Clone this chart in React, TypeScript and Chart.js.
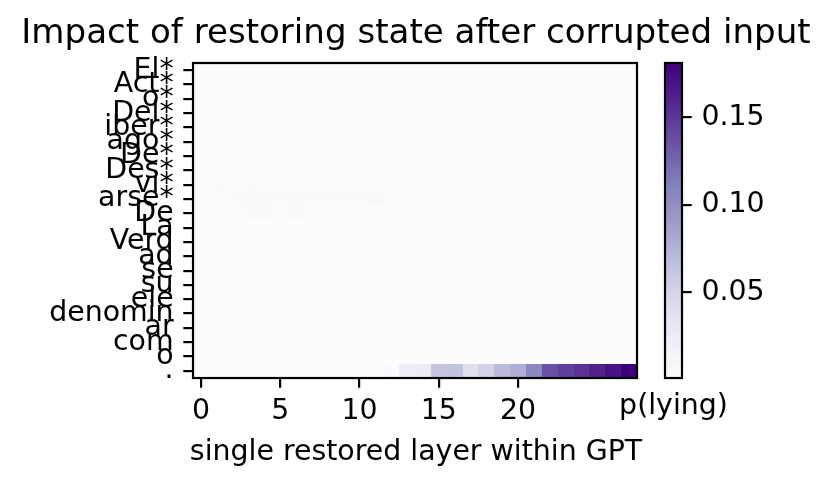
import React, { useEffect, useRef } from "react";
import { Chart, registerables } from "chart.js";

Chart.register(...registerables);

const FONT = "'DejaVu Sans', 'Liberation Sans', sans-serif";

const chartTitle = "Impact of restoring state after corrupted input";
const xAxisTitle = "single restored layer within GPT";
const colorbarLabel = "p(lying)";

// Row labels (input tokens), top to bottom
const tokens = [
  "El*", "Act*", "o*", "Del*", "iber*", "ago*", "De*", "Des*", "vi*", "arse*",
  "De", "La", "Verd", "ad", "se", "su", "ele", "denomin", "ar", "com", "o", ".",
];

// Column categories (layers)
const layers = [0, 1, 2, 3, 4, 5, 6, 7, 8, 9, 10, 11, 12, 13, 14, 15, 16, 17, 18, 19, 20, 21, 22, 23, 24, 25, 26, 27];
const layerTicks = [0, 5, 10, 15, 20];
const colorbarTicks = [0.05, 0.1, 0.15];

// p(lying) per token row and layer column
const pLying: number[][] = [
  /* El*    */ [0.001, 0.001, 0.001, 0.001, 0.001, 0.001, 0.001, 0.001, 0.001, 0.001, 0.001, 0.001, 0.001, 0.001, 0.001, 0.001, 0.001, 0.001, 0.001, 0.001, 0.001, 0.001, 0.001, 0.001, 0.001, 0.001, 0.001, 0.001],
  /* Act*   */ [0.001, 0.001, 0.001, 0.001, 0.001, 0.001, 0.001, 0.001, 0.001, 0.001, 0.001, 0.001, 0.001, 0.001, 0.001, 0.001, 0.001, 0.001, 0.001, 0.001, 0.001, 0.001, 0.001, 0.001, 0.001, 0.001, 0.001, 0.001],
  /* o*     */ [0.001, 0.001, 0.001, 0.001, 0.001, 0.001, 0.001, 0.001, 0.001, 0.001, 0.001, 0.001, 0.001, 0.001, 0.001, 0.001, 0.001, 0.001, 0.001, 0.001, 0.001, 0.001, 0.001, 0.001, 0.001, 0.001, 0.001, 0.001],
  /* Del*   */ [0.001, 0.001, 0.001, 0.001, 0.001, 0.001, 0.001, 0.001, 0.001, 0.001, 0.001, 0.001, 0.001, 0.001, 0.001, 0.001, 0.001, 0.001, 0.001, 0.001, 0.001, 0.001, 0.001, 0.001, 0.001, 0.001, 0.001, 0.001],
  /* iber*  */ [0.001, 0.001, 0.001, 0.001, 0.001, 0.001, 0.001, 0.001, 0.001, 0.001, 0.001, 0.001, 0.001, 0.001, 0.001, 0.001, 0.001, 0.001, 0.001, 0.001, 0.001, 0.001, 0.001, 0.001, 0.001, 0.001, 0.001, 0.001],
  /* ago*   */ [0.001, 0.001, 0.001, 0.001, 0.001, 0.001, 0.001, 0.001, 0.001, 0.001, 0.001, 0.001, 0.001, 0.001, 0.001, 0.001, 0.001, 0.001, 0.001, 0.001, 0.001, 0.001, 0.001, 0.001, 0.001, 0.001, 0.001, 0.001],
  /* De*    */ [0.001, 0.001, 0.001, 0.001, 0.001, 0.001, 0.001, 0.001, 0.001, 0.001, 0.001, 0.001, 0.001, 0.001, 0.001, 0.001, 0.001, 0.001, 0.001, 0.001, 0.001, 0.001, 0.001, 0.001, 0.001, 0.001, 0.001, 0.001],
  /* Des*   */ [0.001, 0.001, 0.001, 0.001, 0.001, 0.001, 0.001, 0.001, 0.001, 0.001, 0.001, 0.001, 0.001, 0.001, 0.001, 0.001, 0.001, 0.001, 0.001, 0.001, 0.001, 0.001, 0.001, 0.001, 0.001, 0.001, 0.001, 0.001],
  /* vi*    */ [0.001, 0.005, 0.001, 0.004, 0.001, 0.001, 0.001, 0.001, 0.001, 0.001, 0.001, 0.001, 0.001, 0.001, 0.001, 0.001, 0.001, 0.001, 0.001, 0.001, 0.001, 0.001, 0.001, 0.001, 0.001, 0.001, 0.001, 0.001],
  /* arse*  */ [0.001, 0.001, 0.004, 0.004, 0.004, 0.004, 0.005, 0.005, 0.005, 0.005, 0.004, 0.006, 0.003, 0.001, 0.001, 0.001, 0.001, 0.001, 0.001, 0.001, 0.001, 0.001, 0.001, 0.001, 0.001, 0.001, 0.001, 0.001],
  /* De     */ [0.001, 0.001, 0.001, 0.004, 0.004, 0.001, 0.004, 0.001, 0.001, 0.001, 0.001, 0.001, 0.001, 0.001, 0.001, 0.001, 0.001, 0.001, 0.001, 0.001, 0.001, 0.001, 0.001, 0.001, 0.001, 0.001, 0.001, 0.001],
  /* La     */ [0.001, 0.001, 0.001, 0.001, 0.001, 0.001, 0.001, 0.001, 0.001, 0.001, 0.001, 0.001, 0.001, 0.001, 0.001, 0.001, 0.001, 0.001, 0.001, 0.001, 0.001, 0.001, 0.001, 0.001, 0.001, 0.001, 0.001, 0.001],
  /* Verd   */ [0.001, 0.001, 0.001, 0.001, 0.001, 0.001, 0.001, 0.001, 0.001, 0.001, 0.001, 0.001, 0.001, 0.001, 0.001, 0.001, 0.001, 0.001, 0.001, 0.001, 0.001, 0.001, 0.001, 0.001, 0.001, 0.001, 0.001, 0.001],
  /* ad     */ [0.001, 0.001, 0.001, 0.001, 0.001, 0.005, 0.005, 0.003, 0.003, 0.003, 0.001, 0.001, 0.001, 0.001, 0.004, 0.001, 0.001, 0.001, 0.001, 0.001, 0.001, 0.001, 0.001, 0.001, 0.001, 0.001, 0.001, 0.001],
  /* se     */ [0.001, 0.001, 0.001, 0.001, 0.001, 0.001, 0.001, 0.001, 0.001, 0.001, 0.001, 0.001, 0.001, 0.001, 0.001, 0.001, 0.001, 0.001, 0.001, 0.001, 0.001, 0.001, 0.001, 0.001, 0.001, 0.001, 0.001, 0.001],
  /* su     */ [0.001, 0.001, 0.001, 0.001, 0.001, 0.001, 0.001, 0.001, 0.001, 0.001, 0.001, 0.001, 0.001, 0.001, 0.001, 0.001, 0.001, 0.001, 0.001, 0.001, 0.001, 0.001, 0.001, 0.001, 0.001, 0.001, 0.001, 0.001],
  /* ele    */ [0.001, 0.001, 0.001, 0.001, 0.001, 0.001, 0.001, 0.001, 0.001, 0.001, 0.001, 0.001, 0.001, 0.001, 0.001, 0.001, 0.001, 0.001, 0.001, 0.001, 0.001, 0.001, 0.001, 0.001, 0.001, 0.001, 0.001, 0.001],
  /* denomin*/ [0.001, 0.001, 0.001, 0.001, 0.001, 0.001, 0.001, 0.001, 0.001, 0.001, 0.001, 0.001, 0.001, 0.001, 0.001, 0.001, 0.001, 0.001, 0.001, 0.001, 0.001, 0.001, 0.001, 0.001, 0.001, 0.001, 0.001, 0.001],
  /* ar     */ [0.001, 0.001, 0.001, 0.001, 0.001, 0.001, 0.001, 0.001, 0.001, 0.001, 0.001, 0.001, 0.001, 0.001, 0.001, 0.001, 0.001, 0.001, 0.001, 0.001, 0.001, 0.001, 0.001, 0.001, 0.001, 0.001, 0.001, 0.001],
  /* com    */ [0.001, 0.001, 0.001, 0.001, 0.001, 0.001, 0.001, 0.001, 0.001, 0.001, 0.001, 0.001, 0.001, 0.001, 0.001, 0.001, 0.001, 0.001, 0.001, 0.001, 0.001, 0.001, 0.001, 0.001, 0.001, 0.001, 0.001, 0.001],
  /* o      */ [0.001, 0.001, 0.001, 0.001, 0.001, 0.001, 0.001, 0.001, 0.001, 0.001, 0.001, 0.001, 0.001, 0.001, 0.001, 0.001, 0.001, 0.001, 0.001, 0.001, 0.001, 0.001, 0.001, 0.001, 0.001, 0.001, 0.001, 0.001],
  /* .      */ [0.001, 0.001, 0.001, 0.001, 0.001, 0.001, 0.001, 0.001, 0.001, 0.001, 0.001, 0.003, 0.004, 0.023, 0.027, 0.062, 0.063, 0.040, 0.052, 0.070, 0.078, 0.105, 0.136, 0.145, 0.152, 0.161, 0.170, 0.181],
];

const PURPLES = ["#fcfbfd", "#efedf5", "#dadaeb", "#bcbddc", "#9e9ac8", "#807dba", "#6a51a3", "#54278f", "#3f007d"];

function hexToRgb(h: string) {
  return [parseInt(h.slice(1, 3), 16), parseInt(h.slice(3, 5), 16), parseInt(h.slice(5, 7), 16)];
}

function purples(t: number) {
  const tt = Math.max(0, Math.min(1, t));
  const s = tt * (PURPLES.length - 1);
  const i = Math.min(PURPLES.length - 2, Math.floor(s));
  const f = s - i;
  const a = hexToRgb(PURPLES[i]);
  const b = hexToRgb(PURPLES[i + 1]);
  const c = a.map((v, k) => Math.round(v + (b[k] - v) * f));
  return `rgb(${c[0]},${c[1]},${c[2]})`;
}

const allVals = pLying.flat();
const vmin = Math.min(...allVals);
const vmax = Math.max(...allVals);

const TICK_FONT = { family: FONT, size: 28.4, weight: "normal" as const, lineHeight: 1.2 };
const TITLE_FONT = { family: FONT, size: 34.1, weight: "normal" as const, lineHeight: 1.2 };
const TICK_LEN = 9.7;
const LINE_W = 2.2;

const heatmapPlugin = {
  id: "heatmapCells",
  beforeDatasetsDraw(chart: any) {
    const { ctx, scales } = chart;
    const xs = scales.x;
    const ys = scales.y;
    const pts = chart.data.datasets[0].data as { x: number; y: number; v: number }[];
    ctx.save();
    for (const p of pts) {
      const x0 = Math.round(xs.getPixelForValue(p.x - 0.5));
      const x1 = Math.round(xs.getPixelForValue(p.x + 0.5));
      const y0 = Math.round(ys.getPixelForValue(p.y - 0.5));
      const y1 = Math.round(ys.getPixelForValue(p.y + 0.5));
      ctx.fillStyle = purples((p.v - vmin) / (vmax - vmin));
      ctx.fillRect(Math.min(x0, x1), Math.min(y0, y1), Math.abs(x1 - x0), Math.abs(y1 - y0));
    }
    ctx.restore();
  },
};

const framePlugin = {
  id: "frame",
  afterDatasetsDraw(chart: any) {
    const { ctx, chartArea } = chart;
    ctx.save();
    ctx.strokeStyle = "#000";
    ctx.lineWidth = LINE_W;
    ctx.strokeRect(chartArea.left, chartArea.top, chartArea.right - chartArea.left, chartArea.bottom - chartArea.top);
    ctx.restore();
  },
};

const tickGrid = {
  display: true,
  drawOnChartArea: false,
  drawTicks: true,
  tickLength: TICK_LEN,
  color: "#000",
  lineWidth: LINE_W,
};

export default function App() {
  const mainRef = useRef<HTMLCanvasElement>(null);
  const cbRef = useRef<HTMLCanvasElement>(null);

  useEffect(() => {
    const points: { x: number; y: number; v: number }[] = [];
    pLying.forEach((row, r) => {
      row.forEach((v, c) => points.push({ x: layers[c], y: r, v }));
    });

    const main = new Chart(mainRef.current as HTMLCanvasElement, {
      type: "scatter",
      data: {
        datasets: [{ data: points as any, pointRadius: 0, pointHoverRadius: 0 }],
      },
      options: {
        animation: false,
        responsive: false,
        devicePixelRatio: 1,
        events: [],
        layout: { padding: 0 },
        plugins: {
          legend: { display: false },
          tooltip: { enabled: false },
          title: {
            display: true,
            text: chartTitle,
            color: "#000",
            font: TITLE_FONT,
            padding: { top: 13.7, bottom: 8.4 },
          },
          subtitle: {
            display: true,
            position: "bottom",
            text: xAxisTitle,
            color: "#000",
            font: TICK_FONT,
            padding: { top: 7.2, bottom: 16.7 },
          },
        },
        scales: {
          x: {
            type: "linear",
            position: "bottom",
            min: -0.5,
            max: 27.5,
            afterBuildTicks: (s: any) => {
              s.ticks = layerTicks.map((v) => ({ value: v }));
            },
            afterFit: (s: any) => {
              s.height = 50;
            },
            ticks: {
              font: TICK_FONT,
              color: "#000",
              padding: 6.4,
              autoSkip: false,
              maxRotation: 0,
              callback: (v: any) => String(v),
            },
            grid: tickGrid,
            border: { display: false },
          },
          y: {
            type: "linear",
            position: "left",
            reverse: true,
            min: -0.5,
            max: tokens.length - 0.5,
            afterBuildTicks: (s: any) => {
              s.ticks = tokens.map((_, i) => ({ value: i }));
            },
            afterFit: (s: any) => {
              s.width = 193;
            },
            ticks: {
              font: TICK_FONT,
              color: "#000",
              padding: TICK_LEN,
              autoSkip: false,
              callback: (v: any) => tokens[v as number] ?? "",
            },
            grid: tickGrid,
            border: { display: false },
          },
          yr: {
            type: "linear",
            position: "right",
            display: true,
            afterFit: (s: any) => {
              s.width = 195;
            },
            ticks: { display: false },
            grid: { display: false },
            border: { display: false },
          },
        },
      } as any,
      plugins: [heatmapPlugin, framePlugin],
    });

    const cb = new Chart(cbRef.current as HTMLCanvasElement, {
      type: "bar",
      data: {
        labels: [colorbarLabel],
        datasets: [
          {
            data: [[vmin, vmax]] as any,
            borderWidth: 0,
            barPercentage: 1,
            categoryPercentage: 1,
            backgroundColor: (c: any) => {
              const chart = c.chart;
              const ys = chart.scales && chart.scales.y;
              if (!chart.chartArea || !ys) return PURPLES[4];
              const g = chart.ctx.createLinearGradient(0, ys.getPixelForValue(vmin), 0, ys.getPixelForValue(vmax));
              PURPLES.forEach((col, i) => g.addColorStop(i / (PURPLES.length - 1), col));
              return g;
            },
          },
        ],
      },
      options: {
        animation: false,
        responsive: false,
        devicePixelRatio: 1,
        events: [],
        layout: { padding: { top: 63, left: 0, right: 0, bottom: 0 } },
        plugins: {
          legend: { display: false },
          tooltip: { enabled: false },
          title: {
            display: true,
            position: "bottom",
            text: colorbarLabel,
            color: "#000",
            font: TICK_FONT,
            padding: { top: 11.2, bottom: 62.7 },
          },
        },
        scales: {
          x: {
            type: "category",
            display: false,
          },
          y: {
            type: "linear",
            position: "right",
            min: vmin,
            max: vmax,
            afterBuildTicks: (s: any) => {
              s.ticks = colorbarTicks.map((v) => ({ value: v }));
            },
            afterFit: (s: any) => {
              s.width = 150;
            },
            ticks: {
              font: TICK_FONT,
              color: "#000",
              padding: TICK_LEN,
              autoSkip: false,
              callback: (v: any) => Number(v).toFixed(2),
            },
            grid: tickGrid,
            border: { display: false },
          },
          yl: {
            type: "linear",
            position: "left",
            display: true,
            afterFit: (s: any) => {
              s.width = 150;
            },
            ticks: { display: false },
            grid: { display: false },
            border: { display: false },
          },
        },
      } as any,
      plugins: [framePlugin],
    });

    return () => {
      main.destroy();
      cb.destroy();
    };
  }, []);

  return (
    <div style={{ position: "fixed", left: 0, top: 0, width: 832, height: 486, background: "#fff" }}>
      <canvas
        ref={mainRef}
        width={832}
        height={486}
        style={{ position: "absolute", left: 0, top: 0, width: 832, height: 486 }}
      />
      <canvas
        ref={cbRef}
        width={317}
        height={486}
        style={{ position: "absolute", left: 515, top: 0, width: 317, height: 486 }}
      />
    </div>
  );
}
